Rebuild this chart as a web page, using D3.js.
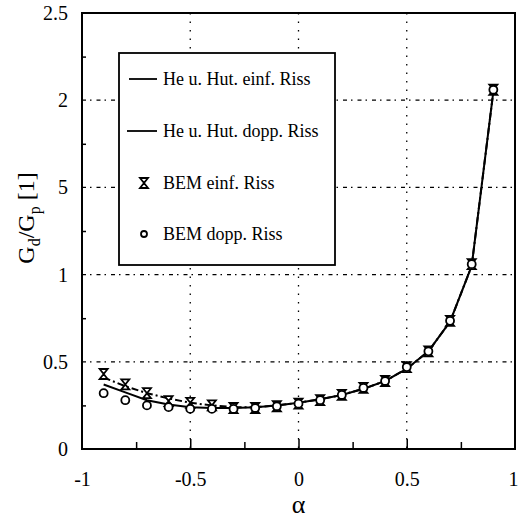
<!DOCTYPE html>
<html>
<head>
<meta charset="utf-8">
<script src="https://cdn.jsdelivr.net/npm/d3@7/dist/d3.min.js"></script>
<style>
  body { margin: 0; background: #fff; }
  svg { display: block; }
  text { font-family: "Liberation Serif", "DejaVu Serif", serif; fill: #000; }
  .grid { stroke: #000; stroke-width: 1.3; fill: none; }
  .curve { stroke: #000; stroke-width: 2; fill: none; }
</style>
</head>
<body>
<div id="chart"></div>
<script>
//data
const alpha = [-0.9,-0.8,-0.7,-0.6,-0.5,-0.4,-0.3,-0.2,-0.1,0,0.1,0.2,0.3,0.4,0.5,0.6,0.7,0.8,0.9]
const heHutEinf = [0.41,0.36,0.32,0.29,0.265,0.25,0.24,0.24,0.25,0.265,0.285,0.31,0.345,0.39,0.46,0.56,0.73,1.05,2.05]
const heHutDopp = [0.37,0.325,0.28,0.255,0.24,0.235,0.235,0.24,0.25,0.265,0.285,0.31,0.345,0.39,0.46,0.56,0.73,1.05,2.05]
const bemEinf = [0.43,0.37,0.32,0.275,0.265,0.25,0.235,0.235,0.245,0.26,0.28,0.31,0.35,0.39,0.47,0.56,0.735,1.06,2.06]
const bemDopp = [0.32,0.28,0.25,0.24,0.23,0.23,0.23,0.235,0.245,0.26,0.28,0.31,0.35,0.39,0.47,0.56,0.735,1.06,2.06]
const xTicks = [-1,-0.5,0,0.5,1]
const xTickLabels = ['-1','-0.5','0','0.5','1']
const yTicks = [0,0.5,1,1.5,2,2.5]
const yTickLabels = ['0','0.5','1','5','2','2.5']
const minorX = [-0.75,-0.25,0.25,0.75]
const minorY = [0.25,0.75,1.25,1.75,2.25]
const legendItems = ['He u. Hut. einf. Riss','He u. Hut. dopp. Riss','BEM einf. Riss','BEM dopp. Riss']

//consts
const
  width = 518,
  height = 520,
  plotLeft = 82,
  plotRight = 515,
  plotTop = 13,
  plotBottom = 449

const x = d3.scaleLinear().domain([-1, 1]).range([plotLeft, plotRight])
const y = d3.scaleLinear().domain([0, 2.5]).range([plotBottom, plotTop])

const svg = d3.select('#chart')
  .append('svg')
  .attr('width', width)
  .attr('height', height)

//grid
svg.selectAll('.vgrid')
  .data([-0.5, 0, 0.5])
  .enter()
  .append('line')
  .attr('class', 'grid')
  .attr('x1', d => x(d)).attr('x2', d => x(d))
  .attr('y1', plotTop).attr('y2', plotBottom)
  .attr('stroke-dasharray', '1.5,7')

svg.selectAll('.hgrid')
  .data([0.5, 1, 1.5, 2])
  .enter()
  .append('line')
  .attr('class', 'grid')
  .attr('x1', plotLeft).attr('x2', plotRight)
  .attr('y1', d => y(d)).attr('y2', d => y(d))
  .attr('stroke-dasharray', '4,4,1.5,5')

//curves
const line = d3.line()
  .x((d, i) => x(alpha[i]))
  .y(d => y(d))

svg.append('path')
  .datum(heHutEinf)
  .attr('class', 'curve')
  .attr('d', line)
  .attr('stroke-width', 1.6)
  .attr('stroke-dasharray', '7,3,2,3')

svg.append('path')
  .datum(heHutDopp)
  .attr('class', 'curve')
  .attr('d', line)

//markers
const hourglass = 'M-4,-5H4L0,0L4,5H-4L0,0Z'

svg.selectAll('.bem-einf')
  .data(bemEinf)
  .enter()
  .append('path')
  .attr('transform', (d, i) => 'translate(' + [x(alpha[i]), y(d)] + ')')
  .attr('d', hourglass)
  .attr('fill', '#fff')
  .attr('stroke', '#000')
  .attr('stroke-width', 1.8)

svg.selectAll('.bem-dopp')
  .data(bemDopp)
  .enter()
  .append('circle')
  .attr('cx', (d, i) => x(alpha[i]))
  .attr('cy', d => y(d))
  .attr('r', 4)
  .attr('fill', '#fff')
  .attr('stroke', '#000')
  .attr('stroke-width', 1.8)

//frame
svg.append('rect')
  .attr('x', plotLeft).attr('y', plotTop)
  .attr('width', plotRight - plotLeft).attr('height', plotBottom - plotTop)
  .attr('fill', 'none')
  .attr('stroke', '#000')
  .attr('stroke-width', 2)

//ticks (inside)
svg.append('g')
  .attr('transform', 'translate(0,' + plotBottom + ')')
  .call(d3.axisTop(x).tickValues(xTicks.slice(1, -1)).tickSize(10).tickFormat(''))
  .call(g => g.select('.domain').remove())
  .selectAll('line').attr('stroke-width', 1.5)

svg.append('g')
  .attr('transform', 'translate(0,' + plotBottom + ')')
  .call(d3.axisTop(x).tickValues(minorX).tickSize(7).tickFormat(''))
  .call(g => g.select('.domain').remove())
  .selectAll('line').attr('stroke-width', 1.5)

svg.append('g')
  .attr('transform', 'translate(' + plotLeft + ',0)')
  .call(d3.axisRight(y).tickValues(minorY).tickSize(4).tickFormat(''))
  .call(g => g.select('.domain').remove())
  .selectAll('line').attr('stroke-width', 1.5)

//tick labels
let xLabels = svg.append('g')
  .attr('transform', 'translate(0,' + plotBottom + ')')
  .call(d3.axisBottom(x).tickValues(xTicks).tickSize(0).tickPadding(23)
    .tickFormat((d, i) => xTickLabels[i]))
  .call(g => g.select('.domain').remove())
xLabels.selectAll('text')
  .attr('font-family', '"Liberation Serif", serif')
  .attr('font-size', 20)
//last label sits on the window edge
xLabels.selectAll('.tick')
  .filter(d => d == 1)
  .select('text')
  .attr('text-anchor', 'end')
  .attr('dx', 3)

svg.append('g')
  .attr('transform', 'translate(' + plotLeft + ',0)')
  .call(d3.axisLeft(y).tickValues(yTicks).tickSize(0).tickPadding(14)
    .tickFormat((d, i) => yTickLabels[i]))
  .call(g => g.select('.domain').remove())
  .selectAll('text')
  .attr('font-family', '"Liberation Serif", serif')
  .attr('font-size', 20)

//legend
const legend = svg.append('g')
legend.append('rect')
  .attr('x', 119).attr('y', 53)
  .attr('width', 216).attr('height', 212)
  .attr('fill', '#fff')
  .attr('stroke', '#000')
  .attr('stroke-width', 1.8)

const rowY = [79, 131, 183, 234]
legendItems.forEach((name, i) => {
  let g = legend.append('g').attr('transform', 'translate(0,' + rowY[i] + ')')
  if (i < 2) {
    g.append('line')
      .attr('x1', i == 0 ? 129 : 127).attr('x2', 157)
      .attr('stroke', '#000').attr('stroke-width', 1.8)
  } else if (i == 2) {
    g.append('path')
      .attr('transform', 'translate(144,0)')
      .attr('d', hourglass)
      .attr('fill', '#fff').attr('stroke', '#000').attr('stroke-width', 1.8)
  } else {
    g.append('circle')
      .attr('cx', 144).attr('r', 3)
      .attr('fill', '#fff').attr('stroke', '#000').attr('stroke-width', 1.8)
  }
  g.append('text')
    .attr('x', 163)
    .attr('dy', '0.35em')
    .attr('font-size', 18)
    .text(name)
})

//axis titles
svg.append('text')
  .attr('x', x(0))
  .attr('y', 513)
  .attr('text-anchor', 'middle')
  .attr('font-size', 26)
  .text('α')

const yTitle = svg.append('text')
  .attr('transform', 'translate(34,218) rotate(-90)')
  .attr('text-anchor', 'middle')
  .attr('font-size', 24)
yTitle.append('tspan').text('G')
yTitle.append('tspan').attr('font-size', 16).attr('dy', 6).text('d')
yTitle.append('tspan').attr('dy', -6).text('/G')
yTitle.append('tspan').attr('font-size', 16).attr('dy', 6).text('p')
yTitle.append('tspan').attr('dy', -6).text(' [1]')
</script>
</body>
</html>
